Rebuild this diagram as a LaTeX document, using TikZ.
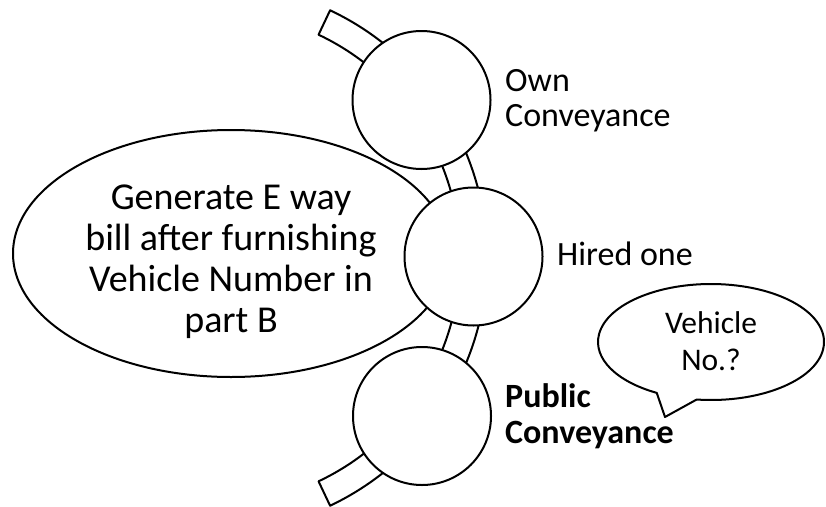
\documentclass[tikz,border=0pt]{standalone}
\usepackage{fontspec}
\setmainfont{Carlito}
\usetikzlibrary{shapes.geometric}
\newcommand{\mylines}[2][c]{\begin{tabular}[t]{@{}#1@{}}#2\end{tabular}}
\tikzset{
  ink/.style={draw=black, line width=2pt, fill=white, line join=round},
  disc/.style={ink, circle, minimum size=138pt, inner sep=0pt},
  bigtext/.style={font=\fontsize{38}{41}\selectfont, inner sep=0pt, anchor=base},
  lbl/.style={font=\fontsize{34}{35.5}\selectfont, inner sep=0pt, anchor=base west},
  bubtext/.style={font=\fontsize{31.5}{37}\selectfont, inner sep=0pt, anchor=base},
}
\begin{document}
\begin{tikzpicture}[x=1pt,y=1pt]
\useasboundingbox (0,0) rectangle (826,-506);
\clip (0,0) rectangle (826,-506);
\fill[white] (0,0) rectangle (826,-506);
% curved band
\coordinate (c) at (213,-258);
\draw[ink] ([shift={(64.7:274)}]c) arc[start angle=64.7, end angle=-64.7, radius=274]
  -- ([shift={(-64.7:247)}]c) arc[start angle=-64.7, end angle=64.7, radius=247] -- cycle;
% big ellipse
\node[ink, ellipse, minimum width=436pt, minimum height=247pt, inner sep=0pt] (bill) at (231,-253.5) {};
\node[bigtext] (billtext) at (231,-209) {\mylines{Generate E way\\bill after furnishing\\Vehicle Number in\\part B}};
% circles
\node[disc] (own) at (421.5,-100) {};
\node[disc] (hired) at (473.5,-256.5) {};
\node[disc] (public) at (422,-416) {};
% labels
\node[lbl] (ownl) at (505,-91) {\mylines[l]{Own\\Conveyance}};
\node[lbl] (hiredl) at (557,-265) {Hired one};
\node[lbl, font=\fontsize{34}{36}\selectfont\bfseries] (publicl) at (505,-407) {\mylines[l]{Public\\Conveyance}};
% speech bubble
\coordinate (bc) at (711,-342);
\coordinate (tip) at (665,-417);
\draw[ink] ([shift={(-97.3:113 and 58)}]bc) arc[start angle=-97.3, end angle=241.3, x radius=113, y radius=58] -- (tip) -- cycle;
\node[bubtext] (vno) at (711,-333) {\mylines{Vehicle\\No.?}};
\end{tikzpicture}
\end{document}
